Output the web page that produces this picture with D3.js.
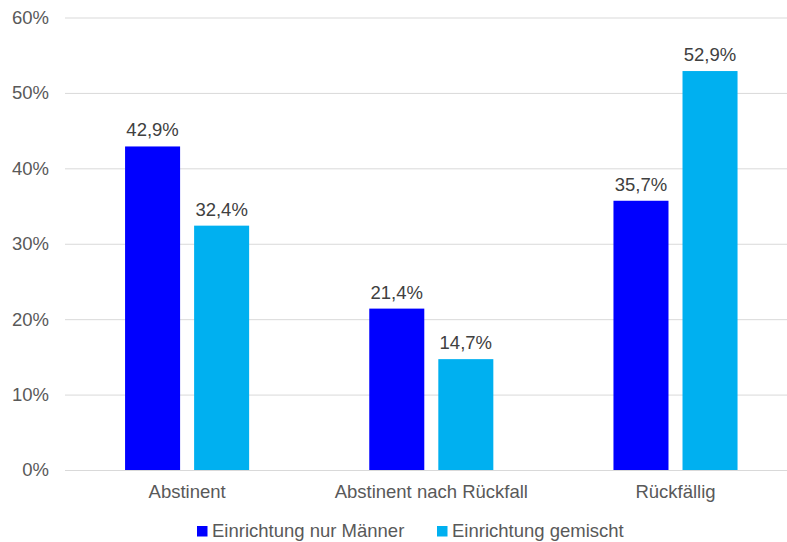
<!DOCTYPE html>
<html>
<head>
<meta charset="utf-8">
<script src="https://cdn.jsdelivr.net/npm/d3@7"></script>
<style>
  html, body { margin: 0; padding: 0; background: #fff; }
  svg { display: block; font-family: "Liberation Sans", Arial, sans-serif; }
</style>
</head>
<body>
<svg id="chart" width="787" height="542"></svg>
<script>
// Outcome categories and the two facility types
const categories = ["Abstinent", "Abstinent nach Rückfall", "Rückfällig"];
const seriesNames = ["Einrichtung nur Männer", "Einrichtung gemischt"];
const maennerValues = [42.9, 21.4, 35.7];
const gemischtValues = [32.4, 14.7, 52.9];
const yTicks = [0, 10, 20, 30, 40, 50, 60];

const colors = ["#0000FF", "#00B0F0"];
const textColor = "#595959";
const fontSize = 18.5;

const svg = d3.select("#chart");
const margin = { left: 65, right: -10.6, top: 17.5, bottom: 72 };
const width = 787, height = 542;

const x = d3.scaleBand()
  .domain(categories)
  .range([margin.left, width - margin.right])
  .paddingInner(0)
  .paddingOuter(0);

const y = d3.scaleLinear()
  .domain([0, 60])
  .range([height - margin.bottom, margin.top]);

// Two bars per category, centred in the band with a small gap
const inner = d3.scaleBand()
  .domain(seriesNames)
  .range([0, x.bandwidth()])
  .paddingInner(0.203)
  .paddingOuter(0.87);

// Gridlines
const yAxis = d3.axisLeft(y)
  .tickValues(yTicks)
  .tickSize(-(width - margin.left + 20))
  .tickPadding(16)
  .tickFormat(d => d + "%");

const gy = svg.append("g")
  .attr("transform", `translate(${margin.left},0)`)
  .call(yAxis);
gy.select(".domain").remove();
gy.selectAll(".tick line").attr("stroke", "#d9d9d9").attr("stroke-width", 1);
gy.selectAll(".tick text")
  .attr("fill", textColor)
  .style("font-size", fontSize + "px")
  .style("font-family", "'Liberation Sans', Arial, sans-serif");

// Category axis labels
const xAxis = d3.axisBottom(x).tickSize(0).tickPadding(15);
const gx = svg.append("g")
  .attr("transform", `translate(0,${y(0)})`)
  .call(xAxis);
gx.select(".domain").remove();
gx.selectAll(".tick text")
  .attr("fill", textColor)
  .style("font-size", fontSize + "px")
  .style("font-family", "'Liberation Sans', Arial, sans-serif");

const rows = categories.map((c, i) => ({
  category: c,
  values: [
    { series: seriesNames[0], value: maennerValues[i], color: colors[0] },
    { series: seriesNames[1], value: gemischtValues[i], color: colors[1] }
  ]
}));

const groups = svg.append("g").selectAll("g")
  .data(rows)
  .join("g")
  .attr("transform", d => `translate(${x(d.category)},0)`);

groups.selectAll("rect")
  .data(d => d.values)
  .join("rect")
  .attr("x", d => inner(d.series))
  .attr("width", inner.bandwidth())
  .attr("y", d => y(d.value))
  .attr("height", d => y(0) - y(d.value))
  .attr("fill", d => d.color);

groups.selectAll("text.value")
  .data(d => d.values)
  .join("text")
  .attr("class", "value")
  .attr("x", d => inner(d.series) + inner.bandwidth() / 2)
  .attr("y", d => y(d.value) - 10)
  .attr("text-anchor", "middle")
  .attr("fill", "#404040")
  .style("font-size", fontSize + "px")
  .text(d => d.value.toFixed(1).replace(".", ",") + "%");

// Legend
const legendItems = [
  { name: seriesNames[0], color: colors[0], x: 197 },
  { name: seriesNames[1], color: colors[1], x: 437 }
];
const legend = svg.append("g");
const li = legend.selectAll("g")
  .data(legendItems)
  .join("g")
  .attr("transform", d => `translate(${d.x},526)`);
li.append("rect")
  .attr("width", 10.5)
  .attr("height", 10.5)
  .attr("fill", d => d.color);
li.append("text")
  .attr("x", 15)
  .attr("y", 11)
  .attr("fill", textColor)
  .style("font-size", fontSize + "px")
  .text(d => d.name);
</script>
</body>
</html>
